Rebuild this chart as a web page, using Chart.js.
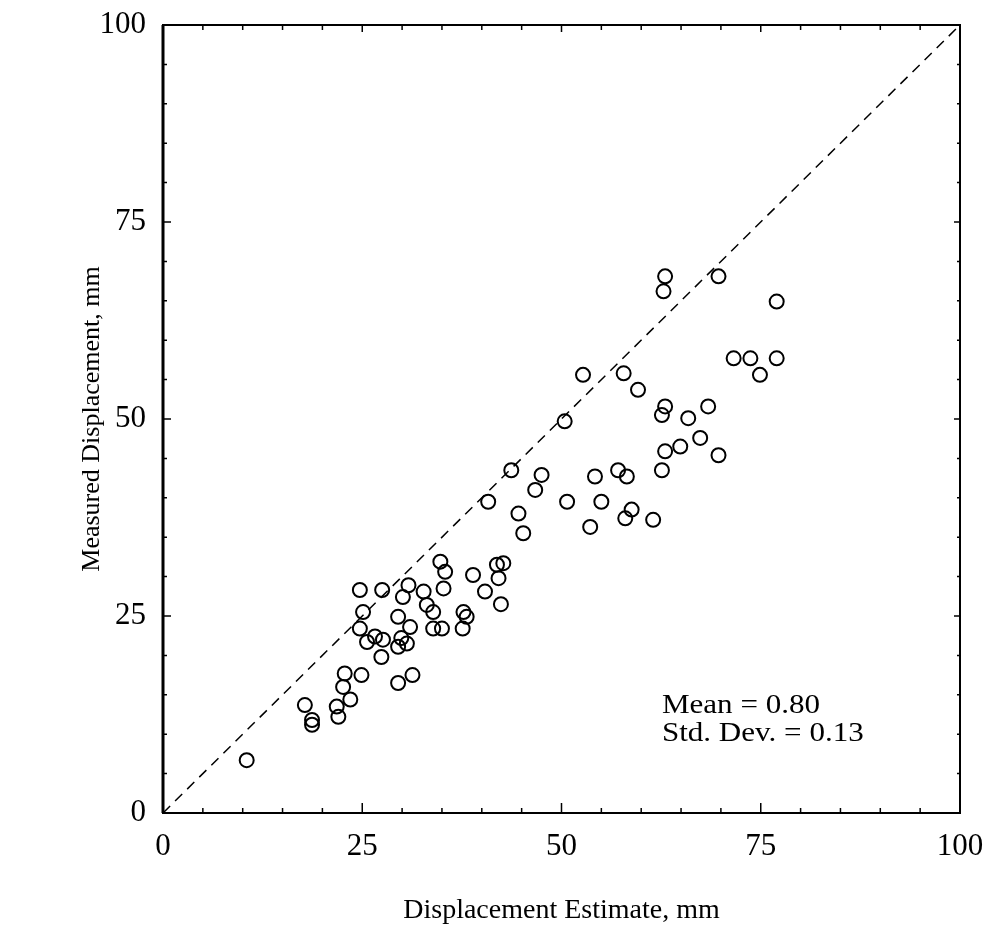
<!DOCTYPE html>
<html>
<head>
<meta charset="utf-8">
<script src="https://cdn.jsdelivr.net/npm/chart.js@4/dist/chart.umd.min.js"></script>
<style>
  html,body{margin:0;padding:0;background:#fff;}
  #wrap{width:993px;height:949px;}
</style>
</head>
<body>
<div id="wrap"><canvas id="c" width="993" height="949"></canvas></div>
<script>
// ===== data =====
const estimate = [10.5,17.8,18.7,18.7,21.8,22.0,23.5,22.6,22.8,24.9,27.4,29.5,31.3,
  24.7,27.5,25.1,24.7,25.6,26.6,27.6,30.8,30.1,32.7,33.1,33.9,29.5,31.0,29.9,29.5,30.6,33.9,35.0,
  34.8,35.4,35.2,37.7,38.1,37.6,38.9,40.4,41.9,42.7,42.1,42.4,
  40.8,43.7,44.6,45.2,46.7,47.5,50.4,50.7,52.7,53.6,54.2,55.0,57.1,57.8,58.2,58.0,58.8,59.6,61.5,
  62.6,63.0,62.6,63.0,64.9,65.9,67.4,68.4,69.7,63.0,62.8,69.7,71.6,73.7,74.9,77.0,77.0];
const measured = [6.7,13.7,11.8,11.2,13.5,12.2,14.4,16.0,17.7,17.5,19.8,16.5,17.5,
  28.3,28.3,25.5,23.4,21.7,22.4,22.0,28.9,27.4,28.1,26.4,25.5,24.9,23.6,22.2,21.1,21.5,23.4,23.4,
  31.9,30.6,28.5,25.5,24.9,23.4,30.2,28.1,31.5,31.7,29.8,26.5,
  39.5,43.5,38.0,35.5,41.0,42.9,49.7,39.5,55.6,36.3,42.7,39.5,43.5,55.8,42.7,37.4,38.5,53.7,37.2,
  43.5,45.9,50.5,51.6,46.5,50.1,47.6,51.6,45.4,68.1,66.2,68.1,57.7,57.7,55.6,57.7,64.9];
const lineX = [0,100], lineY = [0,100];
const tickValues = [0,25,50,75,100];
const statLines = ['Mean = 0.80','Std. Dev. = 0.13'];

const serif = '"Liberation Serif","DejaVu Serif",serif';
const pts = estimate.map((x,i)=>({x, y: measured[i]}));
const diag = lineX.map((x,i)=>({x, y: lineY[i]}));

// box, inward ticks, stats text
const frame = {
  id:'frame',
  beforeDatasetsDraw(chart){
    const {ctx, chartArea:a, scales:{x,y}} = chart;
    ctx.save(); ctx.strokeStyle='#000';
    ctx.lineWidth=2; ctx.strokeRect(a.left, a.top, a.right-a.left, a.bottom-a.top);
    ctx.lineWidth=3; ctx.beginPath(); ctx.moveTo(a.left, a.top); ctx.lineTo(a.left, a.bottom); ctx.stroke();
    ctx.lineWidth=1.5; ctx.beginPath();
    for(let v=5; v<100; v+=5){
      const big = v%25===0, px=x.getPixelForValue(v), py=y.getPixelForValue(v);
      ctx.moveTo(px, a.bottom); ctx.lineTo(px, a.bottom-(big?10:5));
      ctx.moveTo(px, a.top); ctx.lineTo(px, a.top+(big?7:5));
      ctx.moveTo(a.left, py); ctx.lineTo(a.left+(big?8:4), py);
      ctx.moveTo(a.right, py); ctx.lineTo(a.right-(big?6:3), py);
    }
    ctx.stroke(); ctx.restore();
  },
  afterDraw(chart){
    const {ctx, scales:{x,y}} = chart;
    ctx.save(); ctx.fillStyle='#000'; ctx.font='27px '+serif; ctx.textBaseline='alphabetic';
    const tx=x.getPixelForValue(62.6);
    [12.7, 9.1].forEach((v,i)=>{
      ctx.save(); ctx.translate(tx, y.getPixelForValue(v)); ctx.scale(1.15,1);
      ctx.fillText(statLines[i], 0, 0); ctx.restore();
    });
    ctx.restore();
  }
};

new Chart(document.getElementById('c'), {
  type:'scatter',
  data:{datasets:[
    {type:'line', data:diag, borderColor:'#000', borderWidth:1.5, borderDash:[10,7], pointRadius:0, fill:false},
    {data:pts, pointStyle:'circle', pointRadius:7, borderWidth:2, borderColor:'#000', backgroundColor:'rgba(0,0,0,0)'}
  ]},
  options:{
    responsive:false, animation:false,
    layout:{padding:{top:25, right:33, left:0, bottom:0}},
    plugins:{legend:{display:false}, tooltip:{enabled:false}},
    scales:{
      x:{type:'linear', min:0, max:100,
        afterFit:s=>{s.height=136; s.paddingLeft=0; s.paddingRight=0;},
        afterBuildTicks:s=>{s.ticks=tickValues.map(v=>({value:v}));},
        grid:{display:false, drawTicks:false}, border:{display:false},
        ticks:{color:'#000', font:{family:serif, size:31}, padding:15, maxRotation:0},
        title:{display:true, text:'Displacement Estimate, mm', color:'#000', font:{family:serif, size:28}, padding:{bottom:22}}},
      y:{type:'linear', min:0, max:100,
        afterFit:s=>{s.width=163; s.paddingTop=0; s.paddingBottom=0;},
        afterBuildTicks:s=>{s.ticks=tickValues.map(v=>({value:v}));},
        grid:{display:false, drawTicks:false}, border:{display:false},
        ticks:{color:'#000', font:{family:serif, size:31}, padding:17},
        title:{display:true, text:'Measured Displacement, mm', color:'#000', font:{family:serif, size:26}, padding:{top:77}}}
    }
  },
  plugins:[frame]
});
</script>
</body>
</html>
